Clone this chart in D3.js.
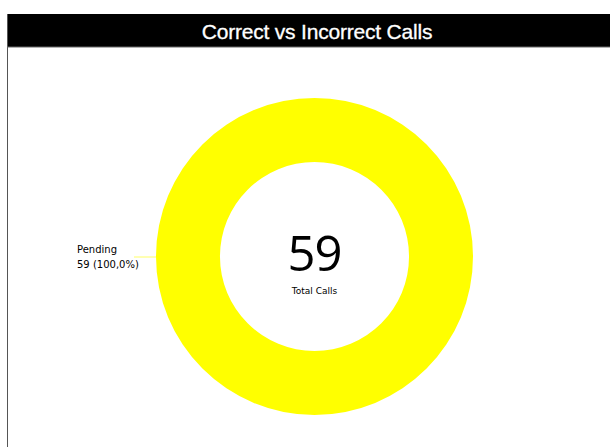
<!DOCTYPE html>
<html>
<head>
<meta charset="utf-8">
<script src="https://cdn.jsdelivr.net/npm/d3@7"></script>
<style>
  body { margin: 0; background: #fff; }
</style>
</head>
<body>
<svg id="chart"></svg>
<script>
const categories = ["Pending"];
const values = [59];
const colors = ["#ffff00"];
const centerLabel = "Total Calls";

const W = 610, H = 447;
const svg = d3.select("#chart").attr("width", W).attr("height", H);

// header + frame
svg.append("rect")
    .attr("x", 7).attr("y", 14)
    .attr("width", W - 7).attr("height", 33)
    .attr("fill", "#000");
svg.append("line")
    .attr("x1", 7.5).attr("x2", 7.5)
    .attr("y1", 14).attr("y2", H)
    .attr("stroke", "#555").attr("stroke-width", 1);
svg.append("line")
    .attr("x1", 7).attr("x2", W)
    .attr("y1", 47).attr("y2", 47)
    .attr("stroke", "#666").attr("stroke-width", 1);

svg.append("text")
    .attr("x", 317).attr("y", 39)
    .attr("text-anchor", "middle")
    .style("font-family", "Liberation Sans, Arial, sans-serif")
    .style("font-size", "21px")
    .style("letter-spacing", "-0.2px")
    .style("fill", "#fff")
    .style("stroke", "#fff")
    .style("stroke-width", "0.3px")
    .text("Correct vs Incorrect Calls");

const data = categories.map((c, i) => ({ category: c, value: values[i], color: colors[i] }));
const total = d3.sum(values);

const cx = 314.5, cy = 256.5, outerR = 158.5, innerR = 94.5;
const g = svg.append("g").attr("transform", `translate(${cx},${cy})`);

const pie = d3.pie().value(d => d.value).sort(null);
const arc = d3.arc().innerRadius(innerR).outerRadius(outerR);

g.selectAll("path")
    .data(pie(data))
    .enter().append("path")
    .attr("d", arc)
    .attr("fill", d => d.data.color);

// leader line + label (placed at the left side of the ring)
const fmt = v => d3.format(".1f")(v).replace(".", ",");
data.forEach(d => {
    g.append("line")
        .attr("x1", -outerR).attr("x2", -outerR - 22)
        .attr("y1", 0.5).attr("y2", 0.5)
        .attr("stroke", "#ffff66").attr("stroke-width", 1);
    const t = g.append("text")
        .style("font-family", "DejaVu Sans, sans-serif")
        .style("font-size", "10px")
        .style("fill", "#000");
    t.append("tspan").attr("x", -outerR - 79).attr("y", -4).text(d.category);
    t.append("tspan").attr("x", -outerR - 79).attr("y", 11)
        .text(`${d.value} (${fmt(d.value / total * 100)}%)`);
});

g.append("text")
    .attr("text-anchor", "middle")
    .attr("y", 14)
    .style("font-family", "Open Sans, DejaVu Sans, sans-serif")
    .style("font-size", "49px")
    .style("letter-spacing", "-1px")
    .style("fill", "#000")
    .text(total);

g.append("text")
    .attr("text-anchor", "middle")
    .attr("y", 37)
    .style("font-family", "DejaVu Sans, sans-serif")
    .style("font-size", "9px")
    .style("fill", "#000")
    .text(centerLabel);
</script>
</body>
</html>
